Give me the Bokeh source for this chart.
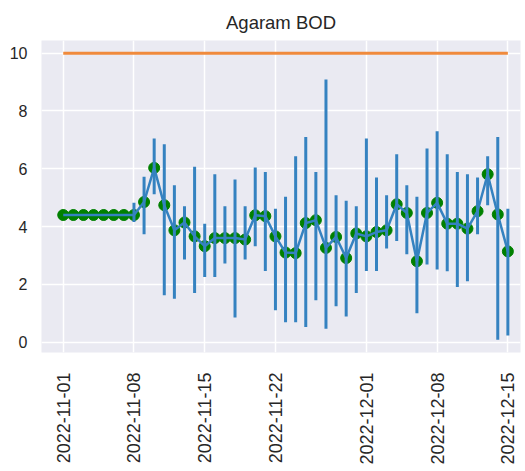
import math
import pandas as pd
from bokeh.plotting import figure
from bokeh.models import ColumnDataSource, FixedTicker, DatetimeTickFormatter, Range1d
from bokeh.embed import file_html
from bokeh.resources import INLINE

# ---- data ----
dates = pd.date_range("2022-11-01", "2022-12-15", freq="D")
bod_mean = [4.4, 4.4, 4.4, 4.4, 4.4, 4.4, 4.4, 4.4, 4.85, 6.03,
            4.74, 3.87, 4.14, 3.66, 3.32, 3.6, 3.6, 3.6, 3.55, 4.39,
            4.36, 3.66, 3.1, 3.08, 4.12, 4.22, 3.26, 3.64, 2.91, 3.76,
            3.66, 3.81, 3.87, 4.77, 4.47, 2.8, 4.47, 4.82, 4.1, 4.1,
            3.93, 4.53, 5.81, 4.42, 3.14]
bod_low = [4.4, 4.4, 4.4, 4.4, 4.4, 4.4, 4.4, 4.16, 3.73, 5.12,
           1.62, 1.5, 2.86, 1.7, 2.25, 2.25, 2.72, 0.85, 2.86, 3.32,
           2.46, 1.1, 0.69, 0.69, 0.52, 1.45, 0.46, 1.24, 0.89, 1.7,
           2.46, 2.46, 3.24, 3.5, 3.04, 1.0, 2.69, 2.51, 2.45, 1.91,
           2.11, 3.73, 4.74, 0.08, 0.23]
bod_high = [4.4, 4.4, 4.4, 4.4, 4.4, 4.4, 4.4, 4.82, 5.72, 7.05,
            6.85, 5.43, 4.7, 6.07, 4.1, 5.81, 4.7, 5.63, 4.7, 6.04,
            5.89, 4.62, 5.03, 6.43, 7.1, 5.89, 9.09, 5.08, 4.89, 4.7,
            7.05, 5.7, 5.08, 6.5, 5.43, 5.03, 6.7, 7.3, 6.5, 5.89,
            5.81, 5.7, 6.43, 7.1, 4.62]
limit = [10] * len(dates)
tick_dates = ["2022-11-01", "2022-11-08", "2022-11-15", "2022-11-22",
              "2022-12-01", "2022-12-08", "2022-12-15"]
y_ticks = [0, 2, 4, 6, 8, 10]
title_text = "Agaram BOD"

src = ColumnDataSource(dict(date=dates, mean=bod_mean, low=bod_low,
                            high=bod_high, limit=limit))

FONT = "Liberation Sans"
TXT = "#262626"
BLUE = "#3582c0"
ORANGE = "#f08a3c"

start = pd.Timestamp("2022-11-01")
p = figure(width=525, height=471, x_axis_type="datetime",
           x_range=Range1d(start - pd.Timedelta(days=2.15), start + pd.Timedelta(days=45.25)),
           y_range=Range1d(-0.36, 10.44),
           output_backend="svg", toolbar_location=None,
           min_border_left=41, min_border_right=5, min_border_top=40,
           min_border_bottom=119, title=title_text)

p.background_fill_color = "#eaeaf2"
p.border_fill_color = "white"
p.outline_line_color = None

p.title.text_font = FONT
p.title.text_font_size = "18.5px"
p.title.text_font_style = "normal"
p.title.text_color = TXT
p.title.align = "center"
p.title.standoff = 15

ticks_ms = [pd.Timestamp(d).value // 10**6 for d in tick_dates]
p.xaxis.ticker = FixedTicker(ticks=ticks_ms)
fmt = "%Y-%m-%d"
p.xaxis.formatter = DatetimeTickFormatter(microseconds=fmt, milliseconds=fmt, seconds=fmt,
                                          minsec=fmt, minutes=fmt, hourmin=fmt, hours=fmt,
                                          days=fmt, months=fmt, years=fmt)
p.xaxis.major_label_orientation = math.pi / 2
p.yaxis.ticker = FixedTicker(ticks=y_ticks)

for ax in (p.xaxis, p.yaxis):
    ax.axis_line_color = None
    ax.major_tick_line_color = None
    ax.minor_tick_line_color = None
    ax.major_tick_out = 0
    ax.major_tick_in = 0
    ax.minor_tick_out = 0
    ax.minor_tick_in = 0
    ax.major_label_text_font = FONT
    ax.major_label_text_color = TXT
p.xaxis.major_label_text_font_size = "18px"
p.yaxis.major_label_text_font_size = "16px"
p.xaxis.major_label_standoff = 20
p.yaxis.major_label_standoff = 14

p.grid.grid_line_color = "white"
p.grid.grid_line_width = 1.5

# threshold line
p.line("date", "limit", source=src, line_color=ORANGE, line_width=3)
# markers
p.scatter("date", "mean", source=src, size=11, fill_color="green",
          line_color="green")
# error bars and connecting line
p.segment(x0="date", y0="low", x1="date", y1="high", source=src,
          line_color=BLUE, line_width=3)
p.line("date", "mean", source=src, line_color=BLUE, line_width=2.5)

open("out.html", "w").write(file_html(p, INLINE))
